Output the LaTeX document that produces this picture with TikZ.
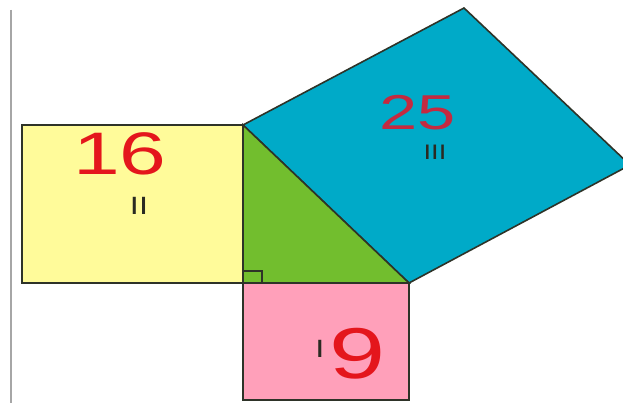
\documentclass[tikz,border=0pt]{standalone}
\usepackage{fontspec}
\setmainfont{Liberation Sans}
\usetikzlibrary{calc}
\definecolor{sqyellow}{HTML}{FFFB9A}
\definecolor{trigreen}{HTML}{72BE2E}
\definecolor{sqblue}{HTML}{00AAC8}
\definecolor{sqpink}{HTML}{FFA0BA}
\definecolor{edge}{HTML}{2E3328}
\definecolor{numred}{HTML}{E4161C}
\definecolor{numcrimson}{HTML}{C42A40}
\definecolor{tick}{HTML}{2A2A22}
\tikzset{
  shapeline/.style={draw=edge, line width=1.6pt, line join=miter},
  bignum/.style={inner sep=0pt, xscale=1.4},
  tickmark/.style={inner sep=0pt, text=tick, xscale=1.3}
}
\begin{document}
\begin{tikzpicture}[x=1pt,y=-1pt]
\useasboundingbox (0,0) rectangle (623,403);
\fill[white] (0,0) rectangle (623,403);
\clip (0,0) rectangle (623,403);
\coordinate (O) at (243,283);
\coordinate (A) at (243,125);
\coordinate (B) at (409,283);
\coordinate (C) at (630,165);
\coordinate (D) at (464,8);
\coordinate (Y) at (22,125);
\coordinate (P) at (409,400);
\coordinate (G1) at (11,10);
\coordinate (G2) at (11,403);
% gray margin line
\draw[color=gray!70, line width=1.4pt] (G1) -- (G2);
% squares
\filldraw[shapeline, fill=sqyellow] (Y) rectangle (O);
\filldraw[shapeline, fill=sqpink] (O) rectangle (P);
\filldraw[shapeline, fill=sqblue] (A) -- (D) -- (C) -- (B) -- cycle;
\filldraw[shapeline, fill=trigreen] (O) -- (A) -- (B) -- cycle;
% right angle mark
\draw[edge, line width=1.2pt] ($(O)+(0,-12)$) -- ++(19,0) -- ++(0,12);
% labels
\node[bignum, text=numred, font=\fontsize{60}{60}\selectfont] (n16) at (120,153.5) {16};
\node[tickmark, font=\fontsize{25}{25}\selectfont] (t16) at (139,206) {II};
\node[bignum, text=numcrimson, font=\fontsize{49}{49}\selectfont] (n25) at (418,112.5) {25};
\node[tickmark, font=\fontsize{21}{21}\selectfont] (t25) at (435,152.5) {III};
\node[bignum, text=numred, font=\fontsize{72}{72}\selectfont] (n9) at (358,354) {9};
\node[tickmark, font=\fontsize{25}{25}\selectfont] (t9) at (320,349) {I};
\end{tikzpicture}
\end{document}
